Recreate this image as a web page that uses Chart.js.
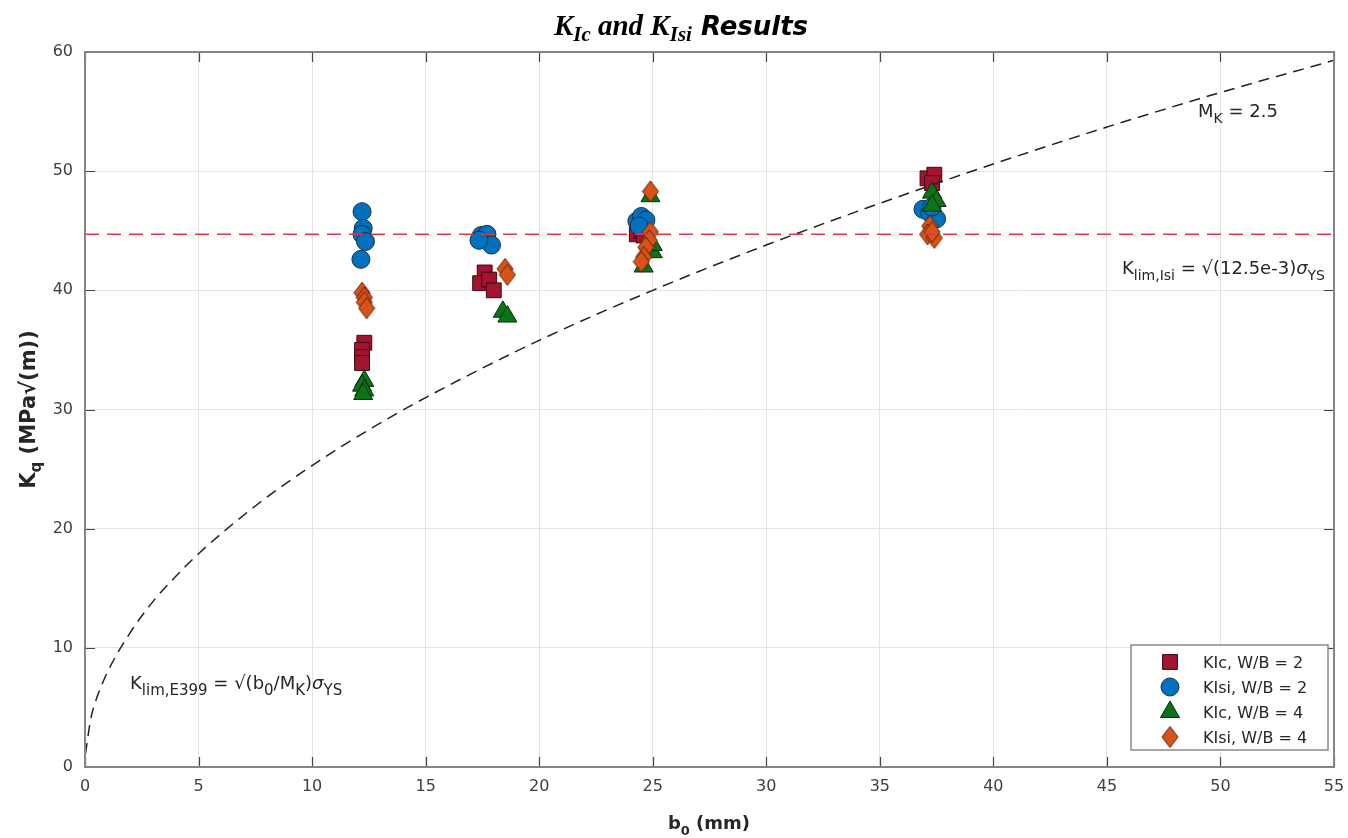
<!DOCTYPE html>
<html>
<head>
<meta charset="utf-8">
<title>KIc and KIsi Results</title>
<script src="https://cdn.jsdelivr.net/npm/chart.js@4.4.1/dist/chart.umd.min.js"></script>
<style>
  html, body { margin: 0; padding: 0; background: #fff; }
  #chart { display: block; }
</style>
</head>
<body>
<canvas id="chart" width="1348" height="838"></canvas>
<script>
// ligament size b0 (mm) and measured K (MPa√m) for each specimen group
const kicW2B0  = [12.3, 12.2, 12.2, 12.2, 17.6, 17.4, 17.8, 18.0, 24.3, 24.5, 24.6, 37.1, 37.4, 37.3];
const kicW2K   = [35.6, 35.0, 34.4, 33.9, 41.5, 40.6, 40.9, 40.0, 44.7, 45.0, 44.6, 49.4, 49.7, 49.0];

const kisiW2B0 = [12.2, 12.25, 12.2, 12.35, 12.15, 17.45, 17.7, 17.9, 17.35, 24.3, 24.5, 24.7, 24.4, 36.9, 37.2, 37.5, 37.3];
const kisiW2K  = [46.6, 45.2, 44.7, 44.1, 42.6, 44.6, 44.7, 43.8, 44.2, 45.8, 46.2, 45.9, 45.4, 46.8, 46.5, 46.0, 47.0];

const kicW4B0  = [12.3, 12.2, 12.3, 12.25, 18.4, 18.6, 24.6, 25.0, 25.0, 24.9, 37.3, 37.5, 37.3];
const kicW4K   = [32.4, 32.0, 31.6, 31.3, 38.2, 37.8, 42.0, 43.2, 43.8, 47.9, 48.2, 47.5, 47.1];

const kisiW4B0 = [12.2, 12.3, 12.3, 12.4, 18.5, 18.6, 24.9, 24.9, 24.85, 24.7, 24.6, 24.5, 37.2, 37.1, 37.4, 37.3];
const kisiW4K  = [39.8, 39.4, 39.0, 38.5, 41.8, 41.3, 48.3, 44.9, 44.2, 43.6, 42.8, 42.4, 45.4, 44.7, 44.4, 44.9];

// E399 size limit curve (MK = 2.5)
const curveB0 = [0.02, 0.25, 0.5, 1, 2, 3, 4, 5, 7.5, 10, 12.5, 15, 20, 25, 30, 35, 40, 45, 50, 55];
const curveK  = [1.1, 4.0, 5.7, 8.0, 11.3, 13.9, 16.0, 17.9, 21.9, 25.3, 28.3, 31.0, 35.8, 40.0, 43.8, 47.3, 50.6, 53.7, 56.6, 59.3];

// Isi size limit (constant)
const limitB0 = [0, 55];
const kLimIsi = 44.7;

const xRange = [0, 55];
const yRange = [0, 60];

const sans = '"DejaVu Sans", sans-serif';
const serif = '"Liberation Serif", serif';

function toPoints(xs, ys) {
  return xs.map((x, i) => ({ x, y: ys[i] }));
}

// diamond marker a bit taller than wide
function diamondMarker(w, h, fill, edge) {
  const c = document.createElement('canvas');
  c.width = w + 2;
  c.height = h + 2;
  const g = c.getContext('2d');
  g.beginPath();
  g.moveTo(c.width / 2, 1);
  g.lineTo(c.width - 1, c.height / 2);
  g.lineTo(c.width / 2, c.height - 1);
  g.lineTo(1, c.height / 2);
  g.closePath();
  g.fillStyle = fill;
  g.fill();
  g.lineWidth = 1;
  g.strokeStyle = edge;
  g.stroke();
  return c;
}

const diamond = diamondMarker(16, 21, '#D95319', '#5a2409');

const groups = [
  { label: 'KIc, W/B = 2',  b0: kicW2B0,  k: kicW2K,  style: 'rect',     radius: 10.5, fill: '#A2142F', edge: '#3d0812', order: 5 },
  { label: 'KIsi, W/B = 2', b0: kisiW2B0, k: kisiW2K, style: 'circle',   radius: 9,    fill: '#0072BD', edge: '#17324f', order: 4 },
  { label: 'KIc, W/B = 4',  b0: kicW4B0,  k: kicW4K,  style: 'triangle', radius: 11,   fill: '#0C7416', edge: '#0b2e0e', order: 3 },
  { label: 'KIsi, W/B = 4', b0: kisiW4B0, k: kisiW4K, style: diamond,    radius: 10,   fill: '#D95319', edge: '#5a2409', order: 2 }
];

const datasets = groups.map(g => ({
  label: g.label,
  data: toPoints(g.b0, g.k),
  pointStyle: g.style,
  pointRadius: g.radius,
  backgroundColor: g.fill,
  borderColor: g.edge,
  borderWidth: 1,
  order: g.order
}));

datasets.push({
  label: 'E399 limit',
  data: toPoints(curveB0, curveK),
  showLine: true,
  pointRadius: 0,
  borderColor: '#222',
  borderWidth: 1.5,
  borderDash: [11, 7],
  cubicInterpolationMode: 'monotone',
  order: 0
});

datasets.push({
  label: 'Isi limit',
  data: toPoints(limitB0, limitB0.map(() => kLimIsi)),
  showLine: true,
  pointRadius: 0,
  borderColor: '#d93a49',
  borderWidth: 1.5,
  borderDash: [14, 8],
  order: 1
});

// draws a row of text pieces (for sub/superscripts) starting at x, baseline y
function drawRuns(ctx, runs, x, y, align) {
  ctx.save();
  ctx.textBaseline = 'alphabetic';
  ctx.textAlign = 'left';
  let total = 0;
  runs.forEach(r => {
    ctx.font = r.font;
    r.w = ctx.measureText(r.t).width;
    total += r.w;
  });
  let cx = align === 'center' ? x - total / 2 : align === 'right' ? x - total : x;
  runs.forEach(r => {
    ctx.font = r.font;
    ctx.fillStyle = r.color || '#262626';
    ctx.fillText(r.t, cx, y + (r.dy || 0));
    cx += r.w;
  });
  ctx.restore();
}

function drawMarker(ctx, g, x, y) {
  if (typeof g.style !== 'string') {
    ctx.drawImage(g.style, x - g.style.width / 2, y - g.style.height / 2);
    return;
  }
  const r = g.radius;
  ctx.beginPath();
  if (g.style === 'circle') {
    ctx.arc(x, y, r, 0, Math.PI * 2);
  } else if (g.style === 'rect') {
    const s = r * Math.SQRT1_2;
    ctx.rect(x - s, y - s, 2 * s, 2 * s);
  } else if (g.style === 'triangle') {
    for (let i = 0; i < 3; i++) {
      const a = i * 2 * Math.PI / 3;
      const px = x + Math.sin(a) * r, py = y - Math.cos(a) * r;
      i ? ctx.lineTo(px, py) : ctx.moveTo(px, py);
    }
    ctx.closePath();
  }
  ctx.fillStyle = g.fill;
  ctx.fill();
  ctx.lineWidth = 1;
  ctx.strokeStyle = g.edge;
  ctx.stroke();
}

const frame = {
  id: 'frame',
  afterDatasetsDraw(chart) {
    const ctx = chart.ctx;
    const a = chart.chartArea;
    const xs = chart.scales.x, ys = chart.scales.y;

    // inward tick marks on all four sides
    ctx.save();
    ctx.strokeStyle = '#444';
    ctx.lineWidth = 1.2;
    const len = 10;
    ctx.beginPath();
    for (let v = xRange[0]; v <= xRange[1]; v += 5) {
      const px = Math.round(xs.getPixelForValue(v)) + 0.5;
      ctx.moveTo(px, a.bottom); ctx.lineTo(px, a.bottom - len);
      ctx.moveTo(px, a.top); ctx.lineTo(px, a.top + len);
    }
    for (let v = yRange[0]; v <= yRange[1]; v += 10) {
      const py = Math.round(ys.getPixelForValue(v)) + 0.5;
      ctx.moveTo(a.left, py); ctx.lineTo(a.left + len, py);
      ctx.moveTo(a.right, py); ctx.lineTo(a.right - len, py);
    }
    ctx.stroke();

    // axes box
    ctx.strokeStyle = '#858585';
    ctx.lineWidth = 2;
    ctx.strokeRect(a.left, a.top, a.right - a.left, a.bottom - a.top);
    ctx.restore();

    // curve and limit annotations
    const f = '18px ' + sans;
    const fs = '14px ' + sans;
    const fsig = 'italic 18px ' + sans;
    drawRuns(ctx, [
      { t: 'M', font: f },
      { t: 'K', font: fs, dy: 6 },
      { t: ' = 2.5', font: f }
    ], 1198, 117);
    drawRuns(ctx, [
      { t: 'K', font: f },
      { t: 'lim,Isi', font: fs, dy: 6 },
      { t: ' = \u221A(12.5e-3)', font: f },
      { t: '\u03C3', font: fsig },
      { t: 'YS', font: fs, dy: 6 }
    ], 1325, 274, 'right');
    drawRuns(ctx, [
      { t: 'K', font: f },
      { t: 'lim,E399', font: '15px ' + sans, dy: 6 },
      { t: ' = \u221A(b', font: f },
      { t: '0', font: '15px ' + sans, dy: 6 },
      { t: '/M', font: f },
      { t: 'K', font: '15px ' + sans, dy: 6 },
      { t: ')', font: f },
      { t: '\u03C3', font: fsig },
      { t: 'YS', font: '15px ' + sans, dy: 6 }
    ], 130, 689);

    // legend
    ctx.save();
    ctx.fillStyle = '#fff';
    ctx.fillRect(1131, 645, 197, 105);
    ctx.strokeStyle = '#8a8a8a';
    ctx.lineWidth = 1.5;
    ctx.strokeRect(1131, 645, 197, 105);
    groups.forEach((g, i) => {
      const rowY = 662 + i * 25;
      drawMarker(ctx, g, 1170, rowY);
      drawRuns(ctx, [{ t: g.label, font: '16px ' + sans }], 1203, rowY + 6);
    });
    ctx.restore();

    // title
    const tb = 'bold italic 29px ' + serif;
    const tsub = 'bold italic 21px ' + serif;
    drawRuns(ctx, [
      { t: 'K', font: tb, color: '#000' },
      { t: 'Ic', font: tsub, dy: 6, color: '#000' },
      { t: ' and ', font: tb, color: '#000' },
      { t: 'K', font: tb, color: '#000' },
      { t: 'Isi', font: tsub, dy: 6, color: '#000' },
      { t: ' Results', font: 'bold italic 26px ' + sans, color: '#000' }
    ], 681, 35, 'center');

    // axis titles
    drawRuns(ctx, [
      { t: 'b', font: 'bold 18px ' + sans },
      { t: '0', font: 'bold 13px ' + sans, dy: 6 },
      { t: ' (mm)', font: 'bold 18px ' + sans }
    ], 709, 829, 'center');

    ctx.save();
    ctx.translate(27, (a.top + a.bottom) / 2);
    ctx.rotate(-Math.PI / 2);
    drawRuns(ctx, [
      { t: 'K', font: 'bold 21px ' + sans },
      { t: 'q', font: 'bold 15px ' + sans, dy: 6 },
      { t: ' (MPa\u221A(m))', font: 'bold 21px ' + sans }
    ], 0, 8, 'center');
    ctx.restore();
  }
};

const tickFont = { family: sans, size: 16 };

new Chart(document.getElementById('chart'), {
  type: 'scatter',
  data: { datasets },
  options: {
    responsive: false,
    animation: false,
    layout: { padding: { top: 52, right: 14, left: 0, bottom: 0 } },
    plugins: {
      legend: { display: false },
      tooltip: { enabled: false }
    },
    scales: {
      x: {
        type: 'linear',
        min: xRange[0],
        max: xRange[1],
        ticks: { stepSize: 5, autoSkip: false, maxRotation: 0, color: '#404040', font: tickFont, padding: 10 },
        grid: { color: '#e4e4e4', drawTicks: false },
        border: { display: false },
        afterFit(s) {
          s.height = 71;
          s.paddingLeft = 0;
          s.paddingRight = 0;
        }
      },
      y: {
        type: 'linear',
        min: yRange[0],
        max: yRange[1],
        ticks: { stepSize: 10, autoSkip: false, color: '#404040', font: tickFont, padding: 12 },
        grid: { color: '#e4e4e4', drawTicks: false },
        border: { display: false },
        afterFit(s) { s.width = 85; }
      }
    }
  },
  plugins: [frame]
});
</script>
</body>
</html>
